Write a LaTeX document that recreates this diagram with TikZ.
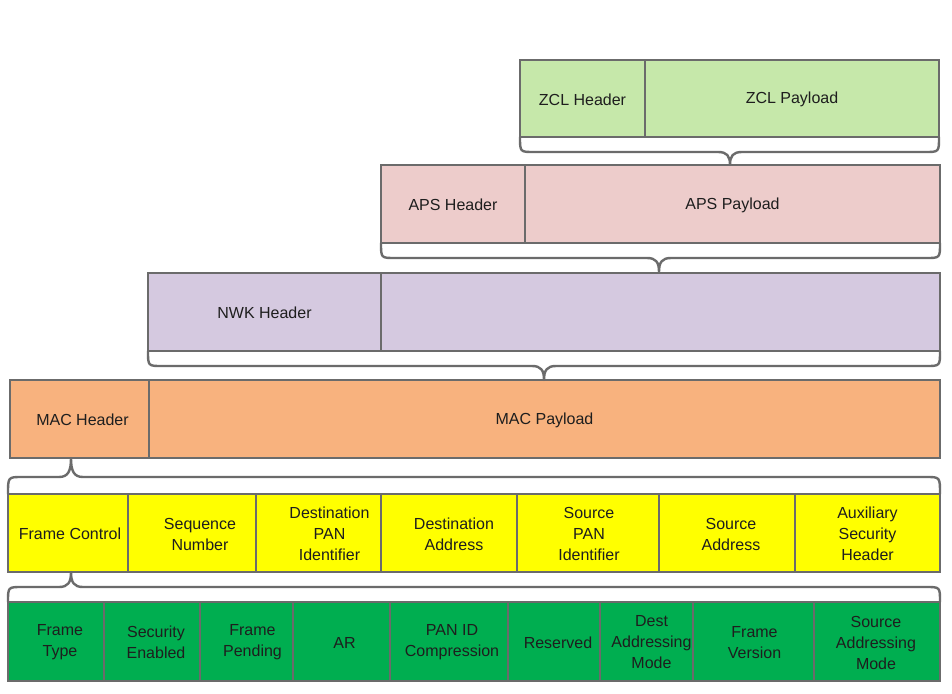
\documentclass[tikz,border=0pt]{standalone}
\usepackage{fontspec}
\setmainfont{Liberation Sans}
\definecolor{zclc}{HTML}{C6E8AA}
\definecolor{apsc}{HTML}{EDCCCB}
\definecolor{nwkc}{HTML}{D5C9E0}
\definecolor{macc}{HTML}{F8B27E}
\definecolor{yelc}{HTML}{FFFF00}
\definecolor{grnc}{HTML}{00AE50}
\definecolor{linec}{HTML}{6B6B6B}
\definecolor{txtc}{HTML}{1E1E1E}
\tikzset{
  cellst/.style={draw=linec, line width=2.4pt, inner sep=0pt, outer sep=0pt,
    align=center, text=txtc, font=\fontsize{16}{21}\selectfont},
  bracest/.style={draw=linec, line width=2.4pt, line cap=round, line join=round}
}
% name, x1, x2, y1, y2, fill, text-shift, text
\newcommand\cellbox[8]{\node[cellst, fill=#6, minimum width={#3-#2}, minimum height={#5-#4},
  label={[cellst, draw=none, fill=none, xshift=#7, yshift=-1]center:{#8}}] (#1) at ({(#2+#3)/2},{(#4+#5)/2}) {};}
\newcommand\fbrace[6]{\draw[bracest] (#1,#3) .. controls (#1,#4) .. ({#1+14},#4) -- ({#5-12},#4) .. controls ({#5-3},#4) and (#5,{#4*0.7+#6*0.3}) .. (#5,#6) .. controls (#5,{#4*0.7+#6*0.3}) and ({#5+3},#4) .. ({#5+12},#4) -- ({#2-14},#4) .. controls (#2,#4) .. (#2,#3);}
\begin{document}
\begin{tikzpicture}[x=1pt,y=-1pt]
\useasboundingbox[fill=white] (0,0) rectangle (952,693);
% ZCL
\cellbox{zclh}{520}{645}{60}{137}{zclc}{0}{ZCL Header}
\cellbox{zclp}{645}{939}{60}{137}{zclc}{0}{ZCL Payload}
% APS
\cellbox{apsh}{381}{525}{165}{243}{apsc}{0}{APS Header}
\cellbox{apsp}{525}{940}{165}{243}{apsc}{0}{APS Payload}
% NWK
\cellbox{nwkh}{148}{381}{273}{351}{nwkc}{0}{NWK Header}
\cellbox{nwkp}{381}{940}{273}{351}{nwkc}{0}{}
% MAC
\cellbox{mach}{10}{149}{380}{458}{macc}{3}{MAC Header}
\cellbox{macp}{149}{940}{380}{458}{macc}{0}{MAC Payload}
% MAC header fields
\cellbox{y1}{8}{128}{494}{572}{yelc}{2}{Frame Control}
\cellbox{y2}{128}{256}{494}{572}{yelc}{8}{Sequence\\Number}
\cellbox{y3}{256}{381}{494}{572}{yelc}{11}{Destination\\PAN\\Identifier}
\cellbox{y4}{381}{517}{494}{572}{yelc}{5}{Destination\\Address}
\cellbox{y5}{517}{659}{494}{572}{yelc}{1}{Source\\PAN\\Identifier}
\cellbox{y6}{659}{795}{494}{572}{yelc}{4}{Source\\Address}
\cellbox{y7}{795}{940}{494}{572}{yelc}{0}{Auxiliary\\Security\\Header}
% Frame control fields
\cellbox{g1}{8}{104}{602}{681}{grnc}{4}{Frame\\Type}
\cellbox{g2}{104}{200}{602}{681}{grnc}{4}{Security\\Enabled}
\cellbox{g3}{200}{293}{602}{681}{grnc}{6}{Frame\\Pending}
\cellbox{g4}{293}{390}{602}{681}{grnc}{3}{AR}
\cellbox{g5}{390}{508}{602}{681}{grnc}{3}{PAN ID\\Compression}
\cellbox{g6}{508}{600}{602}{681}{grnc}{4}{Reserved}
\cellbox{g7}{600}{693}{602}{681}{grnc}{5}{Dest\\Addressing\\Mode}
\cellbox{g8}{693}{814}{602}{681}{grnc}{1}{Frame\\Version}
\cellbox{g9}{814}{940}{602}{681}{grnc}{-1}{Source\\Addressing\\Mode}
% braces
\fbrace{520}{939}{137}{152}{730}{165}
\fbrace{381}{940}{243}{258}{659}{272}
\fbrace{148}{940}{351}{366}{544}{380}
\fbrace{8}{940}{494}{477}{71}{458}
\fbrace{8}{940}{602}{587}{71}{572}
\end{tikzpicture}
\end{document}
